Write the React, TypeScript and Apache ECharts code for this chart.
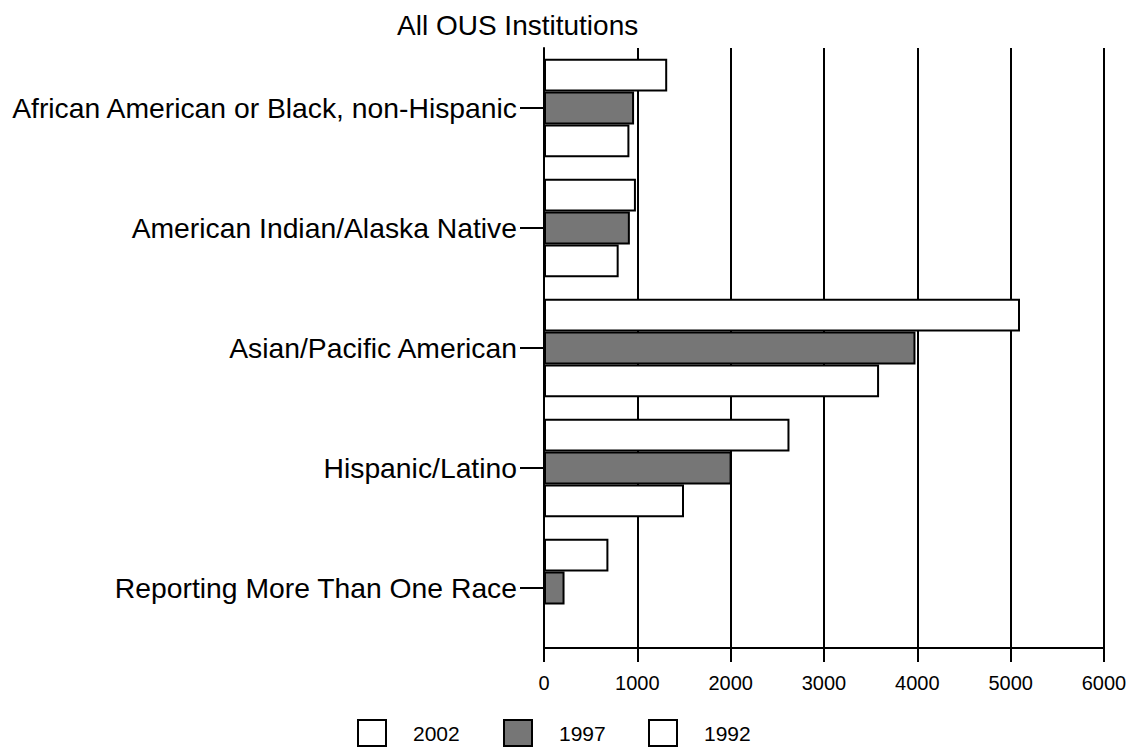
import React, { useEffect, useRef } from "react";
import * as echarts from "echarts";

const categories = [
  "African American or Black, non-Hispanic",
  "American Indian/Alaska Native",
  "Asian/Pacific American",
  "Hispanic/Latino",
  "Reporting More Than One Race",
];
const values2002 = [1320, 985, 5100, 2630, 690];
const values1997 = [965, 920, 3980, 2010, 220];
const values1992 = [915, 800, 3590, 1500, 0];
const xTicks = { min: 0, max: 6000, interval: 1000 };

const FONT = "'Liberation Sans', Arial, sans-serif";

export default function App() {
  const ref = useRef<HTMLDivElement>(null);
  useEffect(() => {
    const chart = echarts.init(ref.current!, null, { renderer: "svg" });
    const barStyle = (color: string) => ({
      color,
      borderColor: "#000",
      borderWidth: 2,
    });
    const legendCommon = {
      orient: "horizontal",
      top: 719,
      padding: 0,
      itemWidth: 28,
      itemHeight: 26,
      icon: "rect",
      textStyle: {
        fontFamily: FONT,
        fontSize: 21,
        color: "#000",
        padding: [0, 0, 0, 22],
      },
    };
    chart.setOption({
      animation: false,
      textStyle: { fontFamily: FONT },
      title: {
        text: "All OUS Institutions",
        left: 392,
        top: 6,
        textStyle: { fontFamily: FONT, fontSize: 28, fontWeight: "normal", color: "#000" },
      },
      legend: [
        { ...legendCommon, left: 357, data: ["2002"] },
        { ...legendCommon, left: 503, data: ["1997"] },
        { ...legendCommon, left: 648, data: ["1992"] },
      ],
      grid: { left: 544, right: 26, top: 48, bottom: 100, containLabel: false },
      xAxis: {
        type: "value",
        min: xTicks.min,
        max: xTicks.max,
        interval: xTicks.interval,
        axisLine: { show: true, lineStyle: { color: "#000", width: 2 } },
        axisTick: { show: true, length: 14, lineStyle: { color: "#000", width: 2 } },
        axisLabel: {
          fontFamily: FONT,
          fontSize: 20,
          color: "#000",
          margin: 25,
          formatter: (v: number) => String(v),
        },
        splitLine: { show: true, lineStyle: { color: "#000", width: 2 } },
      },
      yAxis: {
        type: "category",
        inverse: true,
        data: categories,
        axisLine: { show: true, lineStyle: { color: "#000", width: 2 } },
        axisTick: { show: true, alignWithLabel: true, length: 24, lineStyle: { color: "#000", width: 2 } },
        axisLabel: { fontFamily: FONT, fontSize: 28.3, color: "#000", margin: 27 },
        splitLine: { show: false },
      },
      series: [
        {
          name: "2002",
          type: "bar",
          data: values2002,
          barGap: "0%",
          barCategoryGap: "18%",
          itemStyle: barStyle("#ffffff"),
        },
        {
          name: "1997",
          type: "bar",
          data: values1997,
          barGap: "0%",
          barCategoryGap: "18%",
          itemStyle: barStyle("#767676"),
        },
        {
          name: "1992",
          type: "bar",
          data: values1992,
          barGap: "0%",
          barCategoryGap: "18%",
          itemStyle: barStyle("#ffffff"),
        },
      ],
    });
    return () => chart.dispose();
  }, []);
  return <div ref={ref} style={{ width: 1130, height: 748, position: "absolute", left: 0, top: 0 }} />;
}
